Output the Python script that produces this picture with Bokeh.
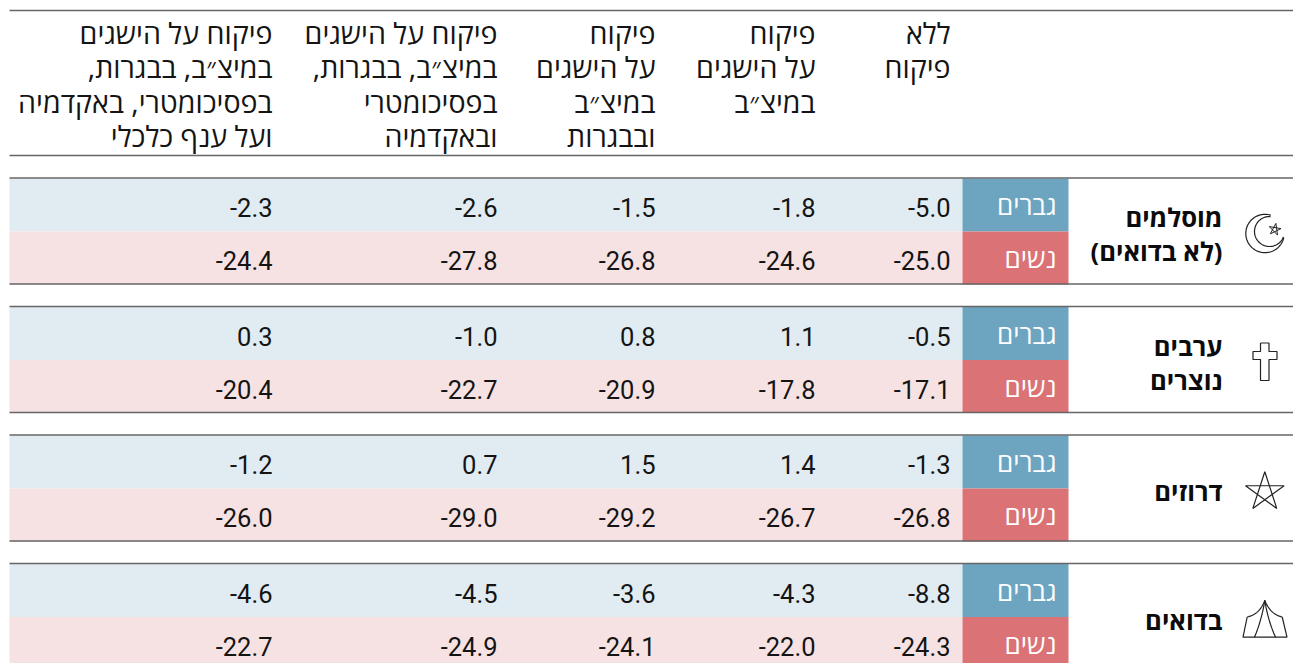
import math
from bokeh.plotting import figure
from bokeh.models import Range1d
from bokeh.core.properties import value
from bokeh.embed import file_html
from bokeh.resources import INLINE

RLM = "\u200f"
groups = [["מוסלמים", "(לא בדואים)"], ["ערבים", "נוצרים"], ["דרוזים"], ["בדואים"]]
genders = ["גברים", "נשים"]
headers = [
    ["ללא", "פיקוח"],
    ["פיקוח", "על הישגים", "במיצ״ב"],
    ["פיקוח", "על הישגים", "במיצ״ב", "ובבגרות"],
    ["פיקוח על הישגים", "במיצ״ב, בבגרות,", "בפסיכומטרי", "ובאקדמיה"],
    ["פיקוח על הישגים", "במיצ״ב, בבגרות,", "בפסיכומטרי, באקדמיה", "ועל ענף כלכלי"],
]
men = [
    [-5.0, -1.8, -1.5, -2.6, -2.3],
    [-0.5, 1.1, 0.8, -1.0, 0.3],
    [-1.3, 1.4, 1.5, 0.7, -1.2],
    [-8.8, -4.3, -3.6, -4.5, -4.6],
]
women = [
    [-25.0, -24.6, -26.8, -27.8, -24.4],
    [-17.1, -17.8, -20.9, -22.7, -20.4],
    [-26.8, -26.7, -29.2, -29.0, -26.0],
    [-24.3, -22.0, -24.1, -24.9, -22.7],
]

W, H = 1293, 663
p = figure(width=W, height=H, output_backend="svg", toolbar_location=None,
           x_range=Range1d(0, 1293), y_range=Range1d(663, 0),
           x_axis_location=None, y_axis_location=None, min_border=0,
           outline_line_color=None, background_fill_color="white")
p.grid.visible = False

NUM_FONT = value("Roboto")
HEB_FONT = value("Open Sans")
INK = "#141414"
col_right = [950, 815, 655, 497, 272]
tops = [178, 306.5, 435, 563.5]
ROW = 53
LINE = "#666666"
YOFF = -10

def hline(y):
    p.line([9, 1293], [y, y], line_color=LINE, line_width=1.4)

hline(10)
hline(155)
for gi, top in enumerate(tops):
    p.quad(left=[9], right=[962], top=[top], bottom=[top + ROW], fill_color="#e0ebf2", line_color=None)
    p.quad(left=[9], right=[962], top=[top + ROW], bottom=[top + 2 * ROW], fill_color="#f7e2e3", line_color=None)
    p.quad(left=[962], right=[1068], top=[top], bottom=[top + ROW], fill_color="#6da5c0", line_color=None)
    p.quad(left=[962], right=[1068], top=[top + ROW], bottom=[top + 2 * ROW], fill_color="#db7275", line_color=None)
    hline(top - 0.5)
    hline(top + 2 * ROW - 0.5)
    p.text([1056], [top + 36.5 + YOFF], text=[genders[0]], text_align="right", text_baseline="alphabetic",
           text_color="white", text_font=HEB_FONT, text_font_size="26px")
    p.text([1056], [top + 89.5 + YOFF], text=[genders[1]], text_align="right", text_baseline="alphabetic",
           text_color="white", text_font=HEB_FONT, text_font_size="26px")
    for row, vals in enumerate((men[gi], women[gi])):
        p.text(col_right, [top + 39 + row * ROW + YOFF] * 5, text=[f"{v:.1f}" for v in vals],
               text_align="right", text_baseline="alphabetic", text_color=INK,
               text_font=NUM_FONT, text_font_size="25.5px")
    lines = groups[gi]
    if len(lines) == 2:
        ys = [top + 49 + YOFF, top + 83 + YOFF]
    else:
        ys = [top + 66 + YOFF]
    p.text([1222] * len(lines), ys, text=[RLM + t + RLM for t in lines], text_align="right",
           text_baseline="alphabetic", text_color="#0c0c0c", text_font=HEB_FONT,
           text_font_size="25.6px", text_font_style="bold")

for cr, head in zip(col_right, headers):
    p.text([cr] * len(head), [42 + YOFF + i * 34.4 for i in range(len(head))],
           text=[RLM + t + RLM for t in head], text_align="right", text_baseline="alphabetic",
           text_color=INK, text_font=HEB_FONT, text_font_size="28.6px")

# icons
def quad_curve(a, c, b, n=16):
    out = []
    for i in range(n + 1):
        t = i / n
        out.append(((1 - t) ** 2 * a[0] + 2 * t * (1 - t) * c[0] + t ** 2 * b[0],
                    (1 - t) ** 2 * a[1] + 2 * t * (1 - t) * c[1] + t ** 2 * b[1]))
    return out

def stroke(pts, width=1.2, color="#222222"):
    p.line([q[0] for q in pts], [q[1] for q in pts], line_color=color, line_width=width)

def arc(cx, cy, r, a0, a1, n=60):
    return [(cx + r * math.cos(math.radians(a0 + (a1 - a0) * i / n)),
             cy + r * math.sin(math.radians(a0 + (a1 - a0) * i / n))) for i in range(n + 1)]

def star_points(cx, cy, r, rot=-90):
    return [(cx + r * math.cos(math.radians(rot + k * 144)),
             cy + r * math.sin(math.radians(rot + k * 144))) for k in range(6)]

# crescent
stroke(arc(1264.5, 233, 19.2, 12, 288))
stroke(arc(1269, 231, 15, 22, 274))
stroke(star_points(1274.3, 229, 6.2, rot=-80), width=1.0)
# cross
cross = [(1260, 342.5), (1268.5, 342.5), (1268.5, 351), (1276.5, 351), (1276.5, 359), (1268.5, 359),
         (1268.5, 380), (1260, 380), (1260, 359), (1252.5, 359), (1252.5, 351), (1260, 351), (1260, 342.5)]
stroke(cross)
# pentagram
cx, cy, r = 1264.3, 491.5, 20.3
stroke(star_points(cx, cy, r), width=1.2)
# tent
apex = (1264.3, 600)
stroke(quad_curve(apex, (1259, 614), (1246.7, 616.5)))
stroke(quad_curve(apex, (1270, 614), (1281.7, 616.5)))
stroke([(1246.7, 616.5), (1242.5, 636.7), (1286.5, 636.7), (1281.7, 616.5)])
stroke(quad_curve(apex, (1261, 620), (1254, 636.7)))
stroke(quad_curve(apex, (1267.5, 620), (1275, 636.7)))

open("out.html", "w").write(file_html(p, INLINE))
